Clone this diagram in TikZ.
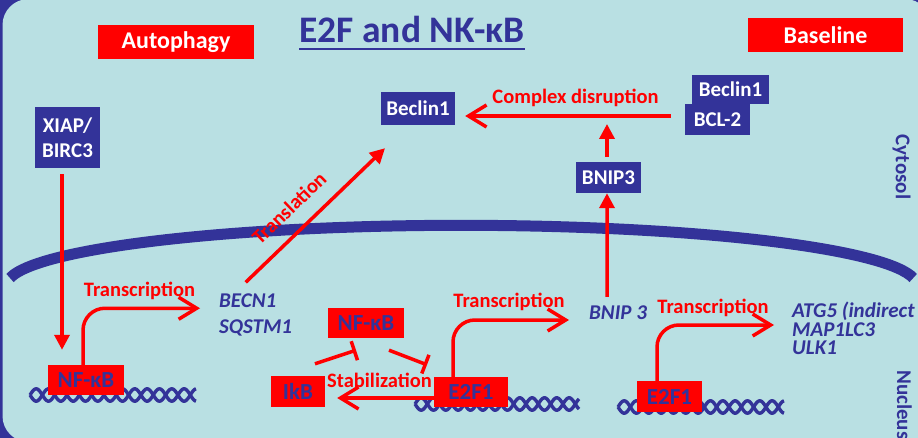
\documentclass[tikz,border=0pt]{standalone}
\usepackage{fontspec}
\setmainfont{Carlito}
\usetikzlibrary{arrows.meta}
\definecolor{dkblue}{HTML}{333399}
\definecolor{bgblue}{HTML}{B9E0E3}
\definecolor{myred}{HTML}{FF0000}
\newcommand\fsz[2]{\fontsize{#1}{#2}\selectfont}
\begin{document}
\begin{tikzpicture}[x=1pt,y=-1pt,
  bluebox/.style={fill=dkblue,text=white,font=\bfseries\fsz{21}{25},inner sep=0pt,align=center},
  redbox/.style={fill=myred,text=dkblue,font=\bfseries\fsz{23}{27},inner sep=0pt},
  tagbox/.style={fill=myred,text=white,font=\bfseries\fsz{24}{28},inner sep=0pt},
  gene/.style={text=dkblue,font=\bfseries\itshape\fsz{21}{26},inner sep=0pt,align=left},
  lbl/.style={text=myred,font=\bfseries\fsz{20.5}{24},inner sep=0pt},
  side/.style={text=dkblue,font=\bfseries\fsz{21}{24},inner sep=0pt},
  dna/.style={draw=dkblue,line width=3.4pt},
  conn/.style={draw=myred,line width=3.5pt},
  barb/.style={conn,-{Straight Barb[length=18pt,width=22pt]}},
  tri/.style={conn,-{Triangle[length=15pt,width=15pt]}},
  inh/.style={conn,-{Bar[width=20pt]}}]
\useasboundingbox (0,0) rectangle (918,438);
\fill[dkblue] (0,0) rectangle (918,438);
\fill[bgblue,rounded corners=26pt] (2.5,-1) rectangle (931,442);
% nuclear membrane
\draw[dkblue,line width=11pt] (10,278) arc[start angle=173,end angle=7,x radius=455pt,y radius=60pt];
% DNA
\foreach \xs/\ys/\len in {30/395/166, 415/404/164, 618/407/166} {
  \draw[dna] plot[domain=0:\len,samples=160] ({\xs+\x},{\ys+6.2*sin(\x*14.6)});
  \draw[dna] plot[domain=0:\len,samples=160] ({\xs+\x},{\ys-6.2*sin(\x*14.6)});
}
% header
\node[tagbox,minimum width=156pt,minimum height=34pt] (autoph) at (176,42) {Autophagy};
\node[tagbox,minimum width=155pt,minimum height=34pt] (base) at (825.5,35) {Baseline};
\node[text=dkblue,font=\bfseries\fsz{37.5}{42},inner sep=0pt,anchor=base] (title) at (412,43) {E2F and NK-κB};
\draw[dkblue,line width=2pt] ([yshift=-6pt]title.base west) -- ([yshift=-6pt]title.base east);
% blue boxes
\node[bluebox,minimum width=65pt,minimum height=61pt] (xiap) at (67.5,137.5) {XIAP/\\BIRC3};
\node[bluebox,minimum width=74pt,minimum height=33pt] (beclinL) at (418,108.5) {Beclin1};
\node[bluebox,minimum width=77pt,minimum height=29pt] (beclinR) at (730.5,89.5) {Beclin1};
\node[bluebox,minimum width=65pt,minimum height=31pt] (bcl2) at (717.5,119.5) {BCL-2};
\node[bluebox,minimum width=65pt,minimum height=31pt] (bnip3) at (608.5,177.5) {BNIP3};
% red boxes
\node[redbox,minimum width=76pt,minimum height=30pt] (nfkbA) at (86,380) {NF-κB};
\node[redbox,minimum width=76pt,minimum height=30pt] (nfkbB) at (366,323) {NF-κB};
\node[redbox,minimum width=54pt,minimum height=31pt] (ikb) at (298,391.5) {IkB};
\node[redbox,minimum width=74pt,minimum height=30pt] (e2fA) at (471,392) {E2F1};
\node[redbox,minimum width=65pt,minimum height=31pt] (e2fB) at (669.5,396.5) {E2F1};
% genes
\node[gene,anchor=west] (genesA) at (219,314.75) {BECN1\\SQSTM1};
\node[gene,anchor=west] (bnip3t) at (589,313) {BNIP 3};
\node[gene,anchor=west,font=\bfseries\itshape\fsz{21}{18.5}] (genesB) at (792,328.6) {ATG5 (indirect\\MAP1LC3\\ULK1};
% labels
\node[lbl,anchor=base] (tr1) at (139.5,297) {Transcription};
\node[lbl,anchor=base] (tr2) at (509,308) {Transcription};
\node[lbl,anchor=base] (tr3) at (713,313) {Transcription};
\node[lbl,anchor=base] (cd) at (575.5,104) {Complex disruption};
\node[lbl,anchor=base] (stab) at (379.5,387) {Stabilization};
\node[lbl,rotate=44] (transl) at (289,208) {Translation};
\node[side,rotate=-90] (cyt) at (901.5,167) {Cytosol};
\node[side,rotate=-90] (nuc) at (904.5,405) {Nucleus};
\coordinate (cdtip) at (607,124);
% connectors
\draw[tri] ([xshift=-5.5pt,yshift=-6pt]xiap.south) -- ([xshift=-24pt,yshift=15pt]nfkbA.north);
\draw[tri] ([xshift=-10pt,yshift=11pt]genesA.north) -- ([xshift=-33pt,yshift=-23pt]beclinL.south);
\draw[tri] ([xshift=-11pt,yshift=9pt]bnip3t.north) -- ([xshift=-1.5pt]bnip3.south);
\draw[tri] ([xshift=-1.5pt,yshift=5pt]bnip3.north) -- (cdtip);
\draw[barb] ([xshift=-14pt,yshift=3.5pt]bcl2.west) -- ([xshift=10pt,yshift=-7.5pt]beclinL.east);
\draw[barb,rounded corners=22pt] ([xshift=-3pt]nfkbA.north) |- ([xshift=-19pt,yshift=6.5pt]genesA.west);
\draw[barb,rounded corners=22pt] ([xshift=-18pt]e2fA.north) |- ([xshift=-20pt,yshift=-7pt]bnip3t.west);
\draw[barb,rounded corners=22pt] ([xshift=-12.5pt]e2fB.north) |- ([xshift=-18pt,yshift=3.6pt]genesB.west);
\draw[barb] ([yshift=-6pt]e2fA.west) -- ([xshift=12pt,yshift=-6.5pt]ikb.east);
\draw[inh] ([xshift=17pt,yshift=12pt]ikb.north) -- ([xshift=-10pt,yshift=-12pt]nfkbB.south);
\draw[inh] ([xshift=23pt,yshift=-12pt]nfkbB.south) -- ([xshift=-44pt,yshift=12pt]e2fA.north);
\end{tikzpicture}
\end{document}
